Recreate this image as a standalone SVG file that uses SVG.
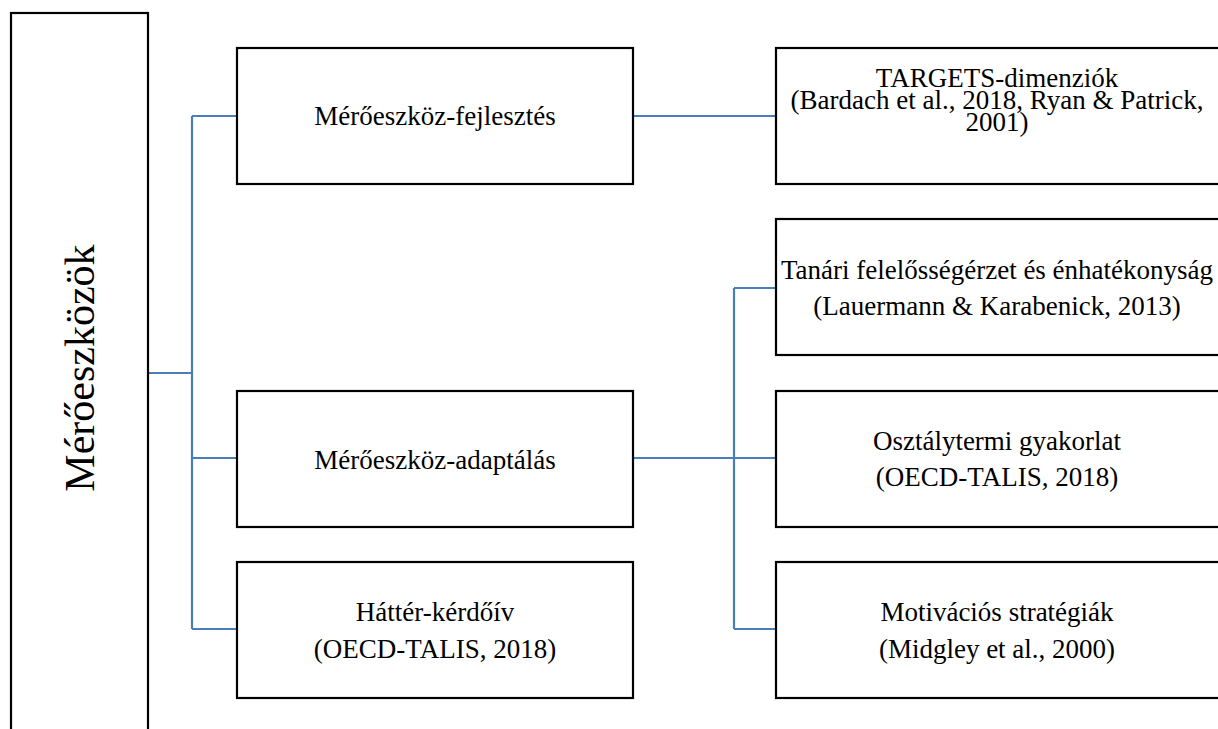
<svg xmlns="http://www.w3.org/2000/svg" width="1218" height="729" viewBox="0 0 1218 729">
<style>
.box{fill:#fff;stroke:#000;stroke-width:2.2}
.t{font-family:"Liberation Serif","Times New Roman",serif;font-size:27px;fill:#000;text-anchor:middle}
.big{font-size:42px}
.c{fill:none;stroke:#4a7ebb;stroke-width:2.2}
</style>
<rect width="1218" height="729" fill="#fff"/>
<g id="connectors">
<path class="c" d="M148,373 H192 M192,116 V629 M192,116 H237 M192,458 H237 M192,629 H237"/>
<path class="c" d="M633,116 H776"/>
<path class="c" d="M633,458 H734 M734,288 V629 M734,288 H776 M734,458 H776 M734,629 H776"/>
</g>
<g id="n-root">
<rect class="box" x="11" y="13" width="137" height="730"/>
<text class="t big" transform="translate(94,368) rotate(-90)" x="0" y="0">Mérőeszközök</text>
</g>
<g id="n-fejlesztes">
<rect class="box" x="237" y="48" width="396" height="136"/>
<text class="t" x="435" y="125">Mérőeszköz-fejlesztés</text>
</g>
<g id="n-adaptalas">
<rect class="box" x="237" y="391" width="396" height="136"/>
<text class="t" x="435" y="469">Mérőeszköz-adaptálás</text>
</g>
<g id="n-hatter">
<rect class="box" x="237" y="562" width="396" height="136"/>
<text class="t" x="435" y="621">Háttér-kérdőív</text>
<text class="t" x="435" y="658">(OECD-TALIS, 2018)</text>
</g>
<g id="n-targets">
<rect class="box" x="776" y="48" width="446" height="136"/>
<text class="t" x="997" y="87">TARGETS-dimenziók</text>
<text class="t" x="997" y="109">(Bardach et al., 2018, Ryan &amp; Patrick,</text>
<text class="t" x="997" y="131">2001)</text>
</g>
<g id="n-tanari">
<rect class="box" x="776" y="219" width="446" height="136"/>
<text class="t" x="997" y="279">Tanári felelősségérzet és énhatékonyság</text>
<text class="t" x="997" y="315">(Lauermann &amp; Karabenick, 2013)</text>
</g>
<g id="n-osztaly">
<rect class="box" x="776" y="391" width="446" height="136"/>
<text class="t" x="997" y="450">Osztálytermi gyakorlat</text>
<text class="t" x="997" y="486">(OECD-TALIS, 2018)</text>
</g>
<g id="n-motiv">
<rect class="box" x="776" y="562" width="446" height="136"/>
<text class="t" x="997" y="621">Motivációs stratégiák</text>
<text class="t" x="997" y="658">(Midgley et al., 2000)</text>
</g>
</svg>
